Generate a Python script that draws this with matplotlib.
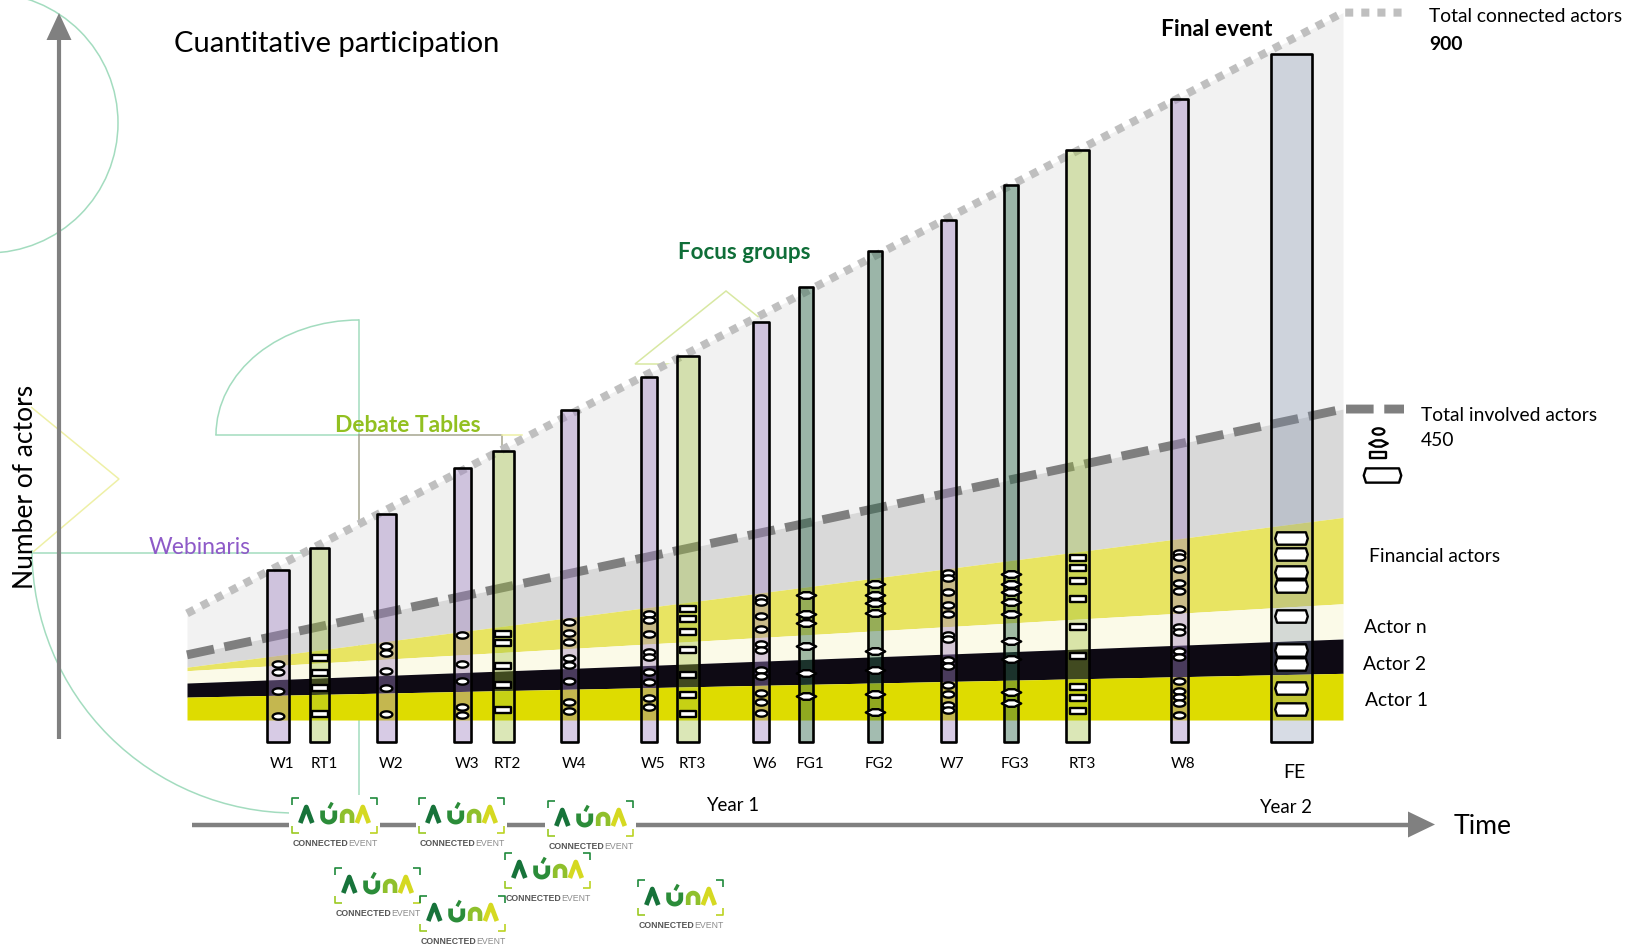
import numpy as np
import matplotlib
matplotlib.use("Agg")
import matplotlib.pyplot as plt
from matplotlib.path import Path
from matplotlib.patches import Polygon, Arc, Circle, Rectangle

plt.rcParams["font.family"] = ["Lato", "DejaVu Sans"]

W, H = 1631, 946

# ---------------- data ----------------
event_labels = ["W1", "RT1", "W2", "W3", "RT2", "W4", "W5", "RT3", "W6",
                "FG1", "FG2", "W7", "FG3", "RT3", "W8", "FE"]
event_kinds = ["W", "RT", "W", "W", "RT", "W", "W", "RT", "W",
               "FG", "FG", "W", "FG", "RT", "W", "FE"]
event_pos = [278, 320, 386.5, 462.5, 503.5, 569.5, 648.7, 688.5, 761,
             806, 875, 948.3, 1011, 1078, 1179.3, 1291.5]
event_size = [267, 292, 331, 383, 402, 449, 486, 510, 549,
              589, 629, 665, 704, 744, 802, 853]
bar_base = 72

# actors taking part in each event (one mark per actor)
w1_actors = [161, 151, 130, 102]
rt1_actors = [167, 150, 133, 104]
w2_actors = [181, 173, 153, 133, 104]
w3_actors = [193, 161, 141, 112, 103]
rt2_actors = [195, 184, 158, 137, 108]
w4_actors = [208, 196, 186, 167, 160, 141, 118, 107]
w5_actors = [217, 211, 195, 174, 169, 152, 140, 122, 112]
rt3_actors = [223, 212, 197, 177, 148, 125, 104]
w6_actors = [236, 231, 215, 200, 183, 176, 154, 147, 128, 118, 105]
fg1_actors = [239, 217, 207, 181, 150, 124]
fg2_actors = [251, 239, 230, 219, 175, 154, 127, 106]
w7_actors = [264, 258, 242, 227, 217, 194, 189, 165, 158, 137, 127, 114, 108]
fg3_actors = [263, 251, 242, 231, 217, 187, 166, 129, 116]
rt3b_actors = [281, 270, 255, 234, 203, 170, 135, 122, 107]
w8_actors = [287, 282, 268, 253, 244, 223, 203, 197, 175, 168, 141, 130, 123, 116, 103]
fe_actors = [304, 286, 265, 249, 215, 177, 161, 133, 110]
event_actors = [w1_actors, rt1_actors, w2_actors, w3_actors, rt2_actors,
                w4_actors, w5_actors, rt3_actors, w6_actors, fg1_actors,
                fg2_actors, w7_actors, fg3_actors, rt3b_actors, w8_actors,
                fe_actors]

# cumulative actor levels at the start and end of the project
stage_pos = [187, 1343]
base_level = [97, 97]
actor1_level = [123, 150]
actor2_level = [139, 189]
actor_n_level = [153, 229]
financial_level = [157, 327]
involved_total = [171, 450]
connected_total = [218, 900]

# ---------------- styles ----------------
bar_widths = [22, 19, 19, 17, 21, 17, 16, 22, 16, 14, 14, 15, 14, 23, 16.7, 41]
kind_fill = {
    "W": ((159 / 255, 130 / 255, 193 / 255), 0.41),
    "RT": ((157 / 255, 190 / 255, 56 / 255), 0.36),
    "FG": ((44 / 255, 103 / 255, 74 / 255), 0.435),
    "FE": ((125 / 255, 142 / 255, 172 / 255), 0.30),
}

t = np.linspace(0, 2 * np.pi, 48)
ellipse_mark = Path(np.column_stack([0.5 * np.cos(t), 0.27 * np.sin(t)]), closed=True)
rect_mark = Path([(-0.5, -0.17), (0.5, -0.17), (0.5, 0.17), (-0.5, 0.17), (-0.5, -0.17)],
                 closed=True)
lens_mark = Path([(-0.5, 0), (-0.16, 0.17), (0.16, 0.17), (0.5, 0), (0.16, -0.17),
                  (-0.16, -0.17), (-0.5, 0)], closed=True)
hex_mark = Path([(-0.5, 0), (-0.44, 0.19), (0.44, 0.19), (0.5, 0), (0.44, -0.19),
                 (-0.44, -0.19), (-0.5, 0)], closed=True)
kind_marker = {"W": (ellipse_mark, 8.4), "RT": (rect_mark, 11.8),
               "FG": (lens_mark, 14.0), "FE": (hex_mark, 23.5)}

GRAY = "#808080"
MINT = "#a3dcbf"
PALE_YELLOW = "#eef0a6"

fig = plt.figure(figsize=(W / 100, H / 100), dpi=100)
fig.patch.set_facecolor("white")

# background layer: thin decorative connectors (pixel space)
bg = fig.add_axes([0, 0, 1, 1], zorder=0)
bg.set_xlim(0, W)
bg.set_ylim(H, 0)
bg.axis("off")

# data layer: actors on the vertical scale
ax = fig.add_axes([0, 0, 1, 1], zorder=1)
ax.set_xlim(0, W)
ax.set_ylim(-159.5, 914.3)
ax.axis("off")

# foreground layer: axes arrows, texts, logos (pixel space)
fg = fig.add_axes([0, 0, 1, 1], zorder=2)
fg.set_xlim(0, W)
fg.set_ylim(H, 0)
fg.axis("off")

# ---------------- decorative connectors ----------------
bg.add_patch(Circle((-12, 123), 130, fill=False, ec=MINT, lw=1.1))
bg.add_patch(Arc((295, 550), 526, 526, theta1=90, theta2=180, ec=MINT, lw=1.1))
bg.plot([33, 307], [552.5, 552.5], color=MINT, lw=1.1)
bg.add_patch(Polygon([(31, 407), (119, 479), (33, 552)], closed=False, fill=False,
                     ec=PALE_YELLOW, lw=1.1))
bg.add_patch(Arc((359, 435), 286, 230, theta1=180, theta2=270, ec=MINT, lw=1.1))
bg.plot([216, 359, 359], [435, 435, 320], color=MINT, lw=1.1)
bg.plot([359, 502, 502], [435, 435, 451], color="#a6a690", lw=1.1)
bg.plot([502, 522], [435, 435], color=PALE_YELLOW, lw=1.1)
bg.plot([359, 359], [435, 600], color="#a6a690", lw=1.1)
bg.plot([359, 359], [600, 798], color=MINT, lw=1.1)
bg.add_patch(Polygon([(635, 364), (726, 291), (817, 364)], closed=True, fill=False,
                     ec="#d8e8a2", lw=1.1))

# ---------------- actor areas ----------------
ax.fill_between(stage_pos, involved_total, connected_total, color="#f2f2f2", lw=0, zorder=1)
ax.fill_between(stage_pos, financial_level, involved_total, color="#d9d9d9", lw=0, zorder=1)
ax.fill_between(stage_pos, actor_n_level, financial_level, color="#e8e462", lw=0, zorder=1)
ax.fill_between(stage_pos, actor2_level, actor_n_level, color="#fbfae8", lw=0, zorder=1)
ax.fill_between(stage_pos, actor1_level, actor2_level, color="#0e0a14", lw=0, zorder=1)
ax.fill_between(stage_pos, base_level, actor1_level, color="#dedc00", lw=0, zorder=1)

legend_end = 1404
ax.plot(stage_pos + [legend_end], connected_total + [connected_total[-1]],
        color="#bfbfbf", lw=5.8, ls=(0, (1, 1)), zorder=2)
ax.plot(stage_pos + [legend_end], involved_total + [involved_total[-1]],
        color="#7f7f7f", lw=6.4, ls=(0, (3.1, 1.2)), zorder=2)

# ---------------- events ----------------
for x, top, kind, width, label, actors in zip(event_pos, event_size, event_kinds,
                                             bar_widths, event_labels, event_actors):
    rgb, alpha = kind_fill[kind]
    ax.bar(x, top - bar_base, bottom=bar_base, width=width, color=(*rgb, alpha),
           edgecolor="black", linewidth=1.9, joinstyle="round", zorder=3)
    mk, ms = kind_marker[kind]
    ax.plot([x] * len(actors), actors, ls="none", marker=mk, ms=ms,
            mfc="white", mec="black", mew=1.7, zorder=4)
    if kind == "FE":
        ax.annotate(label, (x, bar_base), xytext=(2, -22), textcoords="offset points",
                    ha="center", va="center", fontsize=14, zorder=5)
    else:
        ax.annotate(label, (x, bar_base), xytext=(3, -16), textcoords="offset points",
                    ha="center", va="center", fontsize=11, zorder=5)

# ---------------- axes arrows ----------------
fg.plot([59, 59], [739, 36], color=GRAY, lw=3.0, solid_capstyle="butt")
fg.add_patch(Polygon([(59, 13), (46.5, 40), (71.5, 40)], closed=True, fc=GRAY, ec="none"))
fg.plot([192, 1410], [824.5, 824.5], color=GRAY, lw=3.2, solid_capstyle="butt")
fg.add_patch(Polygon([(1435, 824.5), (1408, 811.5), (1408, 837.5)], closed=True,
                     fc=GRAY, ec="none"))


# ---------------- logos ----------------
def draw_logo(axis, x0, y0):
    axis.add_patch(Rectangle((x0 - 3, y0 - 3), 91, 53, fc="white", ec="none", zorder=5))
    dk, lt = "#1f8a3c", "#9cc923"
    kw = dict(lw=1.2, zorder=6, solid_capstyle="butt")
    axis.plot([x0, x0, x0 + 7], [y0 + 7, y0, y0], color=dk, **kw)
    axis.plot([x0 + 78, x0 + 85, x0 + 85], [y0, y0, y0 + 7], color=dk, **kw)
    axis.plot([x0, x0, x0 + 7], [y0 + 28, y0 + 35, y0 + 35], color=lt, **kw)
    axis.plot([x0 + 78, x0 + 85, x0 + 85], [y0 + 35, y0 + 35, y0 + 28], color="#bcd322", **kw)
    sk = dict(lw=3.4, zorder=6, solid_capstyle="butt", solid_joinstyle="round")
    axis.plot([x0 + 8.3, x0 + 14.3, x0 + 20.3], [y0 + 25, y0 + 9, y0 + 25], color="#17733a", **sk)
    a = np.linspace(0, np.pi, 20)
    ux = np.concatenate([[x0 + 30.6], x0 + 36.7 - 6.1 * np.cos(a), [x0 + 42.8]])
    uy = np.concatenate([[y0 + 12.5], y0 + 18.6 + 5.5 * np.sin(a), [y0 + 12.5]])
    axis.plot(ux, uy, color="#2b8c39", **sk)
    axis.plot([x0 + 37, x0 + 40.2], [y0 + 10.3, y0 + 4.6], color="#2b8c39", lw=2.4,
              zorder=6, solid_capstyle="butt")
    nx = np.concatenate([[x0 + 50.2], x0 + 55.1 - 4.9 * np.cos(a), [x0 + 60]])
    ny = np.concatenate([[y0 + 25], y0 + 18 - 4.9 * np.sin(a), [y0 + 25]])
    axis.plot(nx, ny, color="#8fc02c", **sk)
    axis.plot([x0 + 64.8, x0 + 70.8, x0 + 76.8], [y0 + 25, y0 + 9, y0 + 25], color="#d5d921", **sk)
    axis.text(x0 + 56, y0 + 45, "CONNECTED", ha="right", va="center", fontsize=6.3,
              fontweight="bold", color="#555555", family="Liberation Sans", zorder=6)
    axis.text(x0 + 56, y0 + 45, "EVENT", ha="left", va="center", fontsize=6.3,
              color="#8c8c8c", family="Liberation Sans", zorder=6)


for lx, ly in [(292, 798), (419, 798), (548, 801), (335, 868), (505, 853), (420, 896), (638, 880)]:
    draw_logo(fg, lx, ly)

# ---------------- texts ----------------
fg.text(174, 44, "Cuantitative participation", fontsize=21, ha="left", va="center")
fg.text(26, 487, "Number of actors", fontsize=19, rotation=90, ha="center", va="center")
fg.text(149, 547, "Webinaris", fontsize=16.5, color="#8e5ac8", ha="left", va="center")
fg.text(335, 425, "Debate Tables", fontsize=16.4, fontweight="bold", color="#92c020",
        ha="left", va="center")
fg.text(678, 252, "Focus groups", fontsize=16.1, fontweight="bold", color="#0f6e38",
        ha="left", va="center")
fg.text(1161, 29, "Final event", fontsize=16.4, fontweight="bold", ha="left", va="center")
fg.text(1429, 17, "Total connected actors", fontsize=13.9, ha="left", va="center")
fg.text(1429, 44, f"{connected_total[-1]}", fontsize=13.9, fontweight="bold",
        ha="left", va="center")
fg.text(1421, 415, "Total involved actors", fontsize=13.9, ha="left", va="center")
fg.text(1421, 440, f"{involved_total[-1]}", fontsize=13.9, ha="left", va="center")
fg.text(1369, 556, "Financial actors", fontsize=13.9, ha="left", va="center")
fg.text(1364, 627, "Actor n", fontsize=13.9, ha="left", va="center")
fg.text(1363, 664, "Actor 2", fontsize=13.9, ha="left", va="center")
fg.text(1365, 700, "Actor 1", fontsize=13.9, ha="left", va="center")
fg.text(733, 805, "Year 1", fontsize=13.4, ha="center", va="center")
fg.text(1286, 807, "Year 2", fontsize=13.4, ha="center", va="center")
fg.text(1454, 826, "Time", fontsize=19.2, ha="left", va="center")

# key of event marks
for (mk, ms), yy, xx, sc in [(kind_marker["W"], 431, 1378, 1.0),
                             (kind_marker["FG"], 443, 1378, 0.95),
                             (kind_marker["RT"], 455, 1378, 1.0),
                             (kind_marker["FE"], 475, 1382, 1.15)]:
    fg.plot([xx], [yy], ls="none", marker=mk, ms=ms * sc,
            mfc="white", mec="black", mew=1.7)

fig.savefig("out.png", dpi=100, facecolor="white")
